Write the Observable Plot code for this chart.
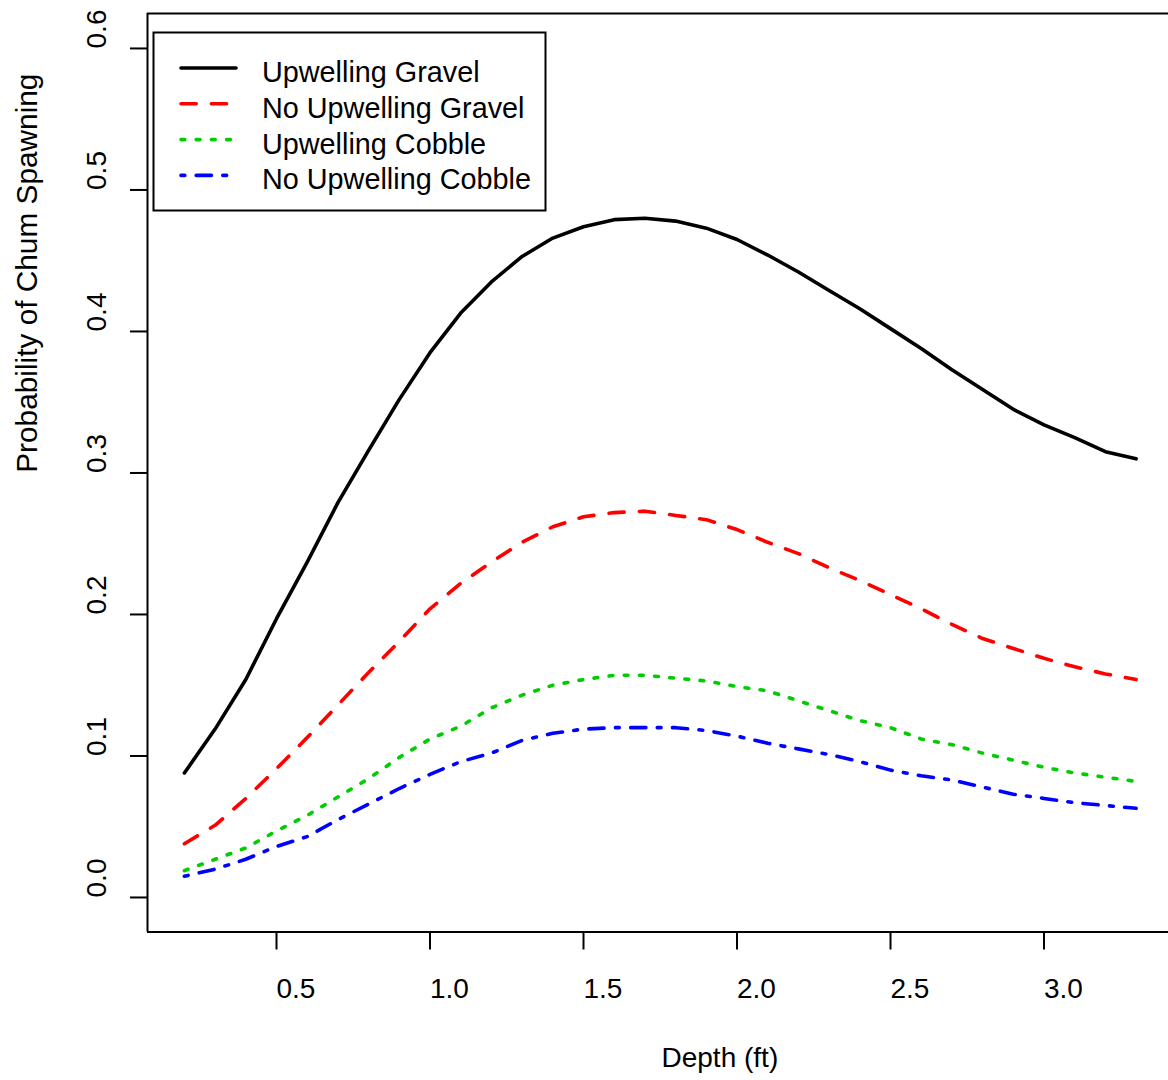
<!DOCTYPE html>
<html>
<head>
<meta charset="utf-8">
<script src="https://cdn.jsdelivr.net/npm/d3@7"></script>
<script src="https://cdn.jsdelivr.net/npm/@observablehq/plot@0.6"></script>
<style>
  html, body { margin: 0; padding: 0; background: #fff; overflow: hidden; }
  #wrap { position: relative; width: 1168px; height: 1080px; }
  #legend { position: absolute; left: 0; top: 0; }
</style>
</head>
<body>
<div id="wrap"></div>
<script>
// ---- data ----
const depth = [0.2,0.3,0.4,0.5,0.6,0.7,0.8,0.9,1.0,1.1,1.2,1.3,1.4,1.5,1.6,1.7,1.8,1.9,2.0,2.1,2.2,2.3,2.4,2.5,2.6,2.7,2.8,2.9,3.0,3.1,3.2,3.3];
const upwellingGravel = [0.088,0.119,0.154,0.197,0.237,0.279,0.316,0.352,0.385,0.413,0.435,0.453,0.466,0.474,0.479,0.480,0.478,0.473,0.465,0.454,0.442,0.429,0.416,0.402,0.388,0.373,0.359,0.345,0.334,0.325,0.315,0.310];
const noUpwellingGravel = [0.038,0.051,0.070,0.091,0.113,0.136,0.159,0.181,0.204,0.222,0.237,0.251,0.262,0.269,0.272,0.273,0.270,0.267,0.260,0.251,0.243,0.233,0.224,0.214,0.204,0.193,0.183,0.176,0.169,0.163,0.158,0.154];
const upwellingCobble = [0.019,0.027,0.035,0.047,0.058,0.071,0.084,0.099,0.112,0.121,0.134,0.143,0.150,0.154,0.157,0.157,0.155,0.153,0.149,0.146,0.139,0.132,0.125,0.120,0.112,0.108,0.102,0.097,0.092,0.088,0.085,0.082];
const noUpwellingCobble = [0.015,0.020,0.027,0.036,0.043,0.055,0.066,0.077,0.087,0.096,0.102,0.111,0.116,0.119,0.120,0.120,0.120,0.118,0.114,0.109,0.105,0.101,0.096,0.090,0.086,0.083,0.078,0.073,0.070,0.067,0.065,0.063];

const seriesNames = ["Upwelling Gravel","No Upwelling Gravel","Upwelling Cobble","No Upwelling Cobble"];
const seriesColors = ["#000000","#FF0000","#00CD00","#0000FF"];
const seriesDash = [null,"15.2,15.2","3.8,11.4","3.8,11.4,15.2,11.4"];

const xTicks = [0.5,1.0,1.5,2.0,2.5,3.0];
const yTicks = [0.0,0.1,0.2,0.3,0.4,0.5,0.6];
const xTitle = "Depth (ft)";
const yTitle = "Probability of Chum Spawning";

// R-style 4% expanded domains
const xDomain = [0.0798, 3.4055];
const yDomain = [-0.0244, 0.6247];

const rows = depth.map((d, i) => ({
  depth: d,
  s0: upwellingGravel[i],
  s1: noUpwellingGravel[i],
  s2: upwellingCobble[i],
  s3: noUpwellingCobble[i]
}));

const FONT = "'Liberation Sans', Arial, Helvetica, sans-serif";
const LW = 3.6;

const lineMarks = seriesNames.map((name, k) => Plot.line(rows, {
  x: "depth", y: "s" + k,
  stroke: seriesColors[k], strokeWidth: LW,
  strokeDasharray: seriesDash[k] || undefined,
  strokeLinecap: "round", strokeLinejoin: "round"
}));

const chart = Plot.plot({
  width: 1168,
  height: 1080,
  marginLeft: 147,
  marginRight: 0,
  marginTop: 13,
  marginBottom: 148.5,
  x: {domain: xDomain, label: null, axis: null},
  y: {domain: yDomain, label: null, axis: null},
  style: {fontFamily: FONT, fontSize: "28px", background: "white", color: "black"},
  marks: [
    // box (top, left, bottom); right edge lies outside the picture
    Plot.ruleY([yDomain[1]], {stroke: "black", strokeWidth: 2}),
    Plot.ruleY([yDomain[0]], {stroke: "black", strokeWidth: 2}),
    Plot.ruleX([xDomain[0]], {stroke: "black", strokeWidth: 2}),
    // ticks
    Plot.axisX(xTicks, {tickSize: 18, tickFormat: () => "", strokeWidth: 2, label: null}),
    Plot.axisY(yTicks, {tickSize: 17, tickFormat: () => "", strokeWidth: 2, label: null}),
    // tick labels
    Plot.text(xTicks, {x: d => d, text: d => d.toFixed(1), frameAnchor: "bottom", dy: 57,
      textAnchor: "start", lineAnchor: "middle", fontSize: 28, fill: "black"}),
    Plot.text(yTicks, {y: d => d, text: d => d.toFixed(1), frameAnchor: "left", dx: -50,
      rotate: -90, textAnchor: "start", lineAnchor: "middle", fontSize: 28, fill: "black"}),
    // axis titles
    Plot.text([xTitle], {text: d => d, frameAnchor: "bottom", dx: 3.5, dy: 126.5,
      textAnchor: "start", lineAnchor: "middle", fontSize: 28, fill: "black"}),
    Plot.text([yTitle], {text: d => d, frameAnchor: "left", dx: -120, rotate: -90,
      textAnchor: "start", lineAnchor: "middle", fontSize: 29.8, fill: "black"}),
    ...lineMarks
  ]
});

const wrap = document.getElementById("wrap");
wrap.appendChild(chart);

// ---- legend overlay ----
const lg = d3.select(wrap).append("svg")
  .attr("id", "legend")
  .attr("width", 1168).attr("height", 260)
  .style("pointer-events", "none");
lg.append("rect")
  .attr("x", 153.5).attr("y", 32.5).attr("width", 392).attr("height", 178)
  .attr("fill", "white").attr("stroke", "black").attr("stroke-width", 2);
seriesNames.forEach((name, k) => {
  const ly = 68 + 35.8 * k;
  lg.append("line")
    .attr("x1", 181).attr("x2", 236).attr("y1", ly).attr("y2", ly)
    .attr("stroke", seriesColors[k]).attr("stroke-width", LW)
    .attr("stroke-linecap", "round")
    .attr("stroke-dasharray", seriesDash[k]);
  lg.append("text")
    .attr("x", 262).attr("y", ly + 14)
    .attr("font-family", FONT).attr("font-size", 28.8).attr("fill", "black")
    .text(name);
});
</script>
</body>
</html>
